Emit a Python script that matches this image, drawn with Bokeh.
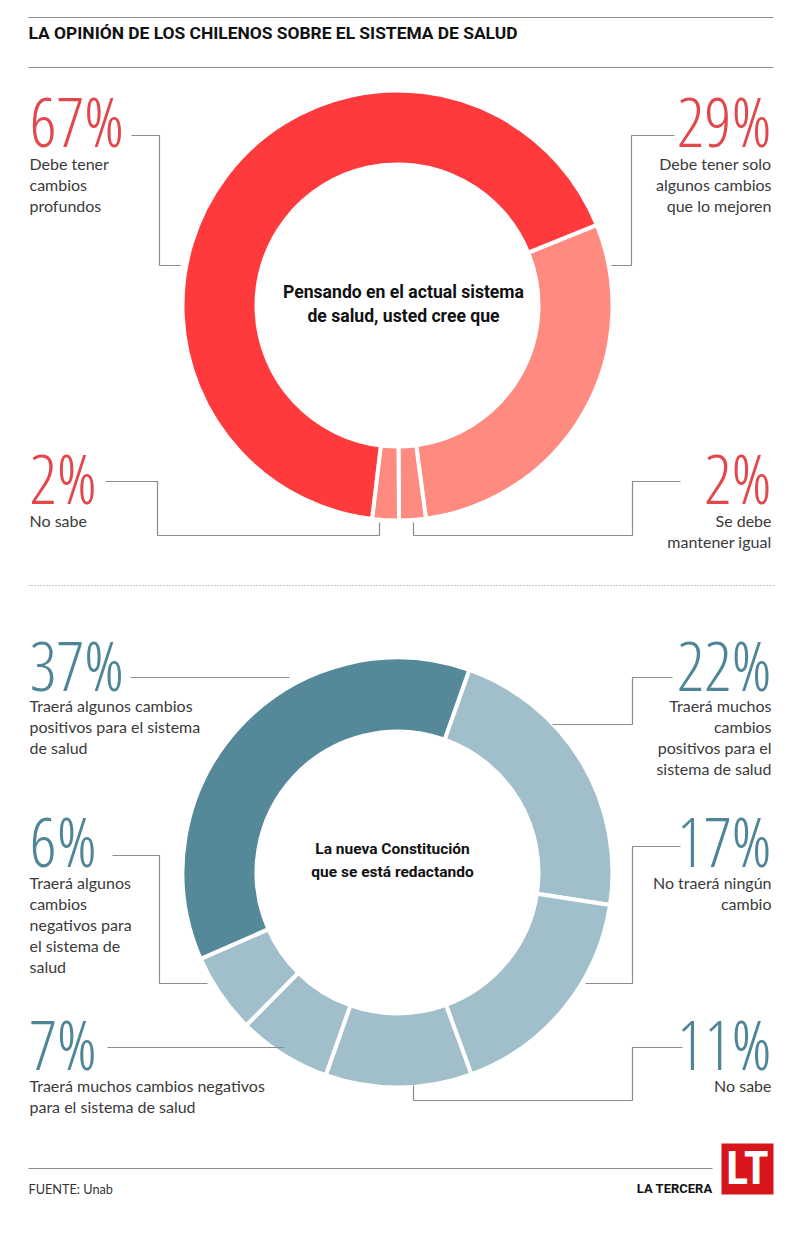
import math
from bokeh.plotting import figure
from bokeh.models import Range1d
from bokeh.core.properties import value
from bokeh.embed import file_html
from bokeh.resources import INLINE

# ---- data
top_values = [29, 2, 2, 67]
top_pcts = ["29%", "2%", "2%", "67%"]
top_labels = [["Debe tener solo", "algunos cambios", "que lo mejoren"],
              ["Se debe", "mantener igual"],
              ["No sabe"],
              ["Debe tener", "cambios", "profundos"]]
bot_values = [22, 17, 11, 7, 6, 37]
bot_pcts = ["22%", "17%", "11%", "7%", "6%", "37%"]
bot_labels = [["Traerá muchos", "cambios", "positivos para el", "sistema de salud"],
              ["No traerá ningún", "cambio"],
              ["No sabe"],
              ["Traerá muchos cambios negativos", "para el sistema de salud"],
              ["Traerá algunos", "cambios", "negativos para", "el sistema de", "salud"],
              ["Traerá algunos cambios", "positivos para el sistema", "de salud"]]
title = "LA OPINIÓN DE LOS CHILENOS SOBRE EL SISTEMA DE SALUD"
top_center = ["Pensando en el actual sistema", "de salud, usted cree que"]
bot_center = ["La nueva Constitución", "que se está redactando"]
source = "FUENTE:  Unab"
brand = "LA TERCERA"

# ---- styles and layout
RED, RED_L, RED_T = "#FF3A3C", "#FF8A80", "#E2474B"
TEAL, TEAL_L, TEAL_T = "#55899A", "#A1BFCA", "#4F8697"
GREY = "#8C8C8C"
BODY, HEAD, NUM = "Lato", "Roboto", "Open Sans Condensed Light"
BASE_SHIFT = 0.385

p = figure(width=784, height=1225, output_backend="svg", toolbar_location=None,
           x_range=Range1d(0, 784), y_range=Range1d(1225, 0), min_border=0)
p.axis.visible = False
p.grid.visible = False
p.outline_line_color = None
p.background_fill_color = "white"


def donut(cy, values, start_deg, colors):
    ang = start_deg
    for v, c in zip(values, colors):
        end = ang - v * 3.6
        p.annular_wedge(x=[397], y=[cy], inner_radius=141, outer_radius=215,
                        start_angle=[math.radians(end)], end_angle=[math.radians(ang)],
                        fill_color=c, line_color="white", line_width=4)
        ang = end


def txt(x, y, s, size, color, font=BODY, align="left", style="normal"):
    p.text(x=[x], y=[y - BASE_SHIFT * size], text=[s], text_font=value(font), text_font_size=f"{size}px",
           text_color=color, text_align=align, text_baseline="alphabetic", text_font_style=style)


def block(x, y, pct, lines, color, align, pct_y=None, dy=21):
    txt(x, pct_y - 2, pct, 68, color, NUM, align)
    for i, s in enumerate(lines):
        txt(x, y - 1.5 + i * dy, s, 16, "#3A3A3A", BODY, align)


def rule(xs, ys, color=GREY, w=1.2, dash="solid"):
    p.line(xs, ys, line_color=color, line_width=w, line_dash=dash)


donut(305, top_values, 22, [RED_L, RED_L, RED_L, RED])
donut(872, bot_values, 70.5, [TEAL_L] * 5 + [TEAL])

rule([28, 773], [17, 17]); rule([28, 773], [67, 67])
rule([28, 773], [585, 585], dash="1 2")
rule([28, 712], [1168, 1168])

for xs, ys in [
    ([131, 159, 159, 180], [135, 135, 265, 265]),
    ([674, 631, 631, 611], [135, 135, 265, 265]),
    ([105, 157, 157, 379, 379], [481, 481, 535, 535, 522]),
    ([680, 632, 632, 413, 413], [481, 481, 535, 535, 522]),
    ([130, 289], [677, 677]),
    ([672, 632, 632, 552], [677, 677, 724, 724]),
    ([112, 159, 159, 207], [855, 855, 983, 983]),
    ([680, 632, 632, 585], [846, 846, 983, 983]),
    ([107, 283], [1047, 1047]),
    ([682, 632, 632, 413, 413], [1047, 1047, 1100, 1100, 1085]),
]:
    rule(xs, ys)

txt(28, 39, title, 17.4, "#111111", HEAD, style="bold")

block(771, 171, top_pcts[0], top_labels[0], RED_T, "right", 148)
block(771, 528, top_pcts[1], top_labels[1], RED_T, "right", 505)
block(29, 528, top_pcts[2], top_labels[2], RED_T, "left", 505)
block(29, 171, top_pcts[3], top_labels[3], RED_T, "left", 148)

block(771, 713, bot_pcts[0], bot_labels[0], TEAL_T, "right", 692)
block(771, 890, bot_pcts[1], bot_labels[1], TEAL_T, "right", 868)
block(771, 1093, bot_pcts[2], bot_labels[2], TEAL_T, "right", 1071)
block(29, 1093, bot_pcts[3], bot_labels[3], TEAL_T, "left", 1071)
block(29, 890, bot_pcts[4], bot_labels[4], TEAL_T, "left", 868)
block(29, 713, bot_pcts[5], bot_labels[5], TEAL_T, "left", 692)

for i, s in enumerate(top_center):
    txt(403, 298 + i * 24, s, 17.6, "#111111", HEAD, "center", "bold")
for i, s in enumerate(bot_center):
    txt(392, 854 + i * 23, s, 15.5, "#111111", HEAD, "center", "bold")

txt(28, 1193, source, 12.7, "#333333", BODY)
txt(712, 1193.5, brand, 13, "#111111", HEAD, "right", "bold")
p.quad(left=[721], right=[773], top=[1143], bottom=[1194], fill_color="#D8141C", line_color=None)
txt(747, 1185, "LT", 46, "white", "Roboto Condensed", "center", "bold")

open("out.html", "w").write(file_html(p, INLINE))
